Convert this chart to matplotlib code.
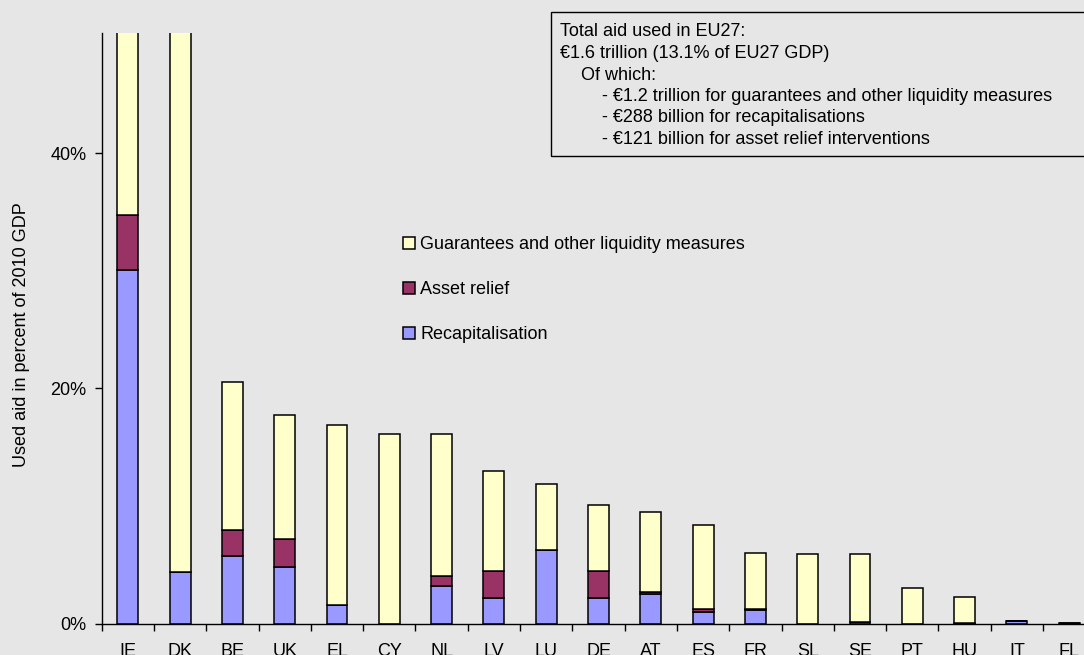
import matplotlib
matplotlib.use("Agg")
import matplotlib.pyplot as plt
import numpy as np
from matplotlib.patches import Patch, Rectangle
from matplotlib.ticker import PercentFormatter

plt.rcParams['font.family'] = ['Liberation Sans', 'DejaVu Sans']

# data, in percent of 2010 GDP
countries = ["IE", "DK", "BE", "UK", "EL", "CY", "NL", "LV", "LU", "DE",
             "AT", "ES", "FR", "SL", "SE", "PT", "HU", "IT", "FL"]
recap = [30.1, 4.4, 5.75, 4.8, 1.6, 0.0, 3.17, 2.2, 6.23, 2.2,
         2.52, 0.99, 1.14, 0.0, 0.17, 0.0, 0.08, 0.25, 0.0]
asset_relief = [4.6, 0.0, 2.18, 2.42, 0.0, 0.0, 0.85, 2.3, 0.0, 2.26,
                0.14, 0.26, 0.08, 0.0, 0.0, 0.0, 0.0, 0.0, 0.05]
guarantees = [215.0, 140.0, 12.57, 10.55, 15.27, 16.13, 12.08, 8.46, 5.66, 5.61,
              6.85, 7.1, 4.76, 5.94, 5.77, 3.0, 2.19, 0.0, 0.0]

series_names = ["Recapitalisation", "Asset relief", "Guarantees and other liquidity measures"]
series_colors = ["#9999ff", "#993366", "#ffffcc"]

info_lines = ["Total aid used in EU27:",
              "\u20ac1.6 trillion (13.1% of EU27 GDP)",
              "Of which:",
              "- \u20ac1.2 trillion for guarantees and other liquidity measures",
              "- \u20ac288 billion for recapitalisations",
              "- \u20ac121 billion for asset relief interventions"]
info_indent = [0, 0, 1, 2, 2, 2]

bg = "#e6e6e6"
fs = 13

fig = plt.figure(figsize=(10.84, 6.55), dpi=100, facecolor=bg)
ax = fig.add_axes([0.0938, 0.0478, 0.9167, 0.9018], facecolor=bg)

x = np.arange(len(countries))
r = np.array(recap)
a = np.array(asset_relief)
g = np.array(guarantees)
ax.bar(x, r, width=0.4, color=series_colors[0], edgecolor="black", linewidth=1.1)
ax.bar(x, a, width=0.4, bottom=r, color=series_colors[1], edgecolor="black", linewidth=1.1)
ax.bar(x, g, width=0.4, bottom=r + a, color=series_colors[2], edgecolor="black", linewidth=1.1)

ax.set_xlim(-0.5, len(countries) - 0.5)
ax.set_ylim(0, 50.2)

for s in ["top", "right"]:
    ax.spines[s].set_visible(False)
ax.spines["left"].set_linewidth(1.0)
ax.spines["bottom"].set_linewidth(1.0)

# y axis
ax.set_yticks([0, 20, 40])
ax.yaxis.set_major_formatter(PercentFormatter(xmax=100, decimals=0))
ax.tick_params(axis="y", length=5, width=1.0, labelsize=fs, pad=6)
ax.set_ylabel("Used aid in percent of 2010 GDP", fontsize=fs)
ax.yaxis.set_label_coords(-0.072, 0.49)

# x axis: tick marks between categories, labels in the middle
ax.set_xticks(np.arange(-0.5, len(countries), 1.0))
ax.set_xticklabels([])
ax.set_xticks(x, minor=True)
ax.set_xticklabels(countries, minor=True)
ax.tick_params(axis="x", which="major", length=5, width=1.0)
ax.tick_params(axis="x", which="minor", length=0, labelsize=fs, pad=14)

# legend
handles = [Patch(facecolor=series_colors[i], edgecolor="black", linewidth=1.1,
                 label=series_names[i]) for i in [2, 1, 0]]
ax.legend(handles=handles, loc="upper left", bbox_to_anchor=(0.296, 0.668),
          frameon=False, fontsize=fs, handlelength=0.65, handleheight=0.65,
          handletextpad=0.3, labelspacing=1.55, borderaxespad=0)

# info box
fig.patches.append(Rectangle((551 / 1084, 1 - 156 / 655), 0.6, 144 / 655,
                             transform=fig.transFigure, facecolor=bg,
                             edgecolor="black", linewidth=1.0))
for i, line in enumerate(info_lines):
    fig.text((560 + info_indent[i] * 21) / 1084, 1 - (32 + i * 21.5) / 655, line,
             fontsize=fs, va="center", ha="left")

fig.savefig("out.png", dpi=100, facecolor=bg)
